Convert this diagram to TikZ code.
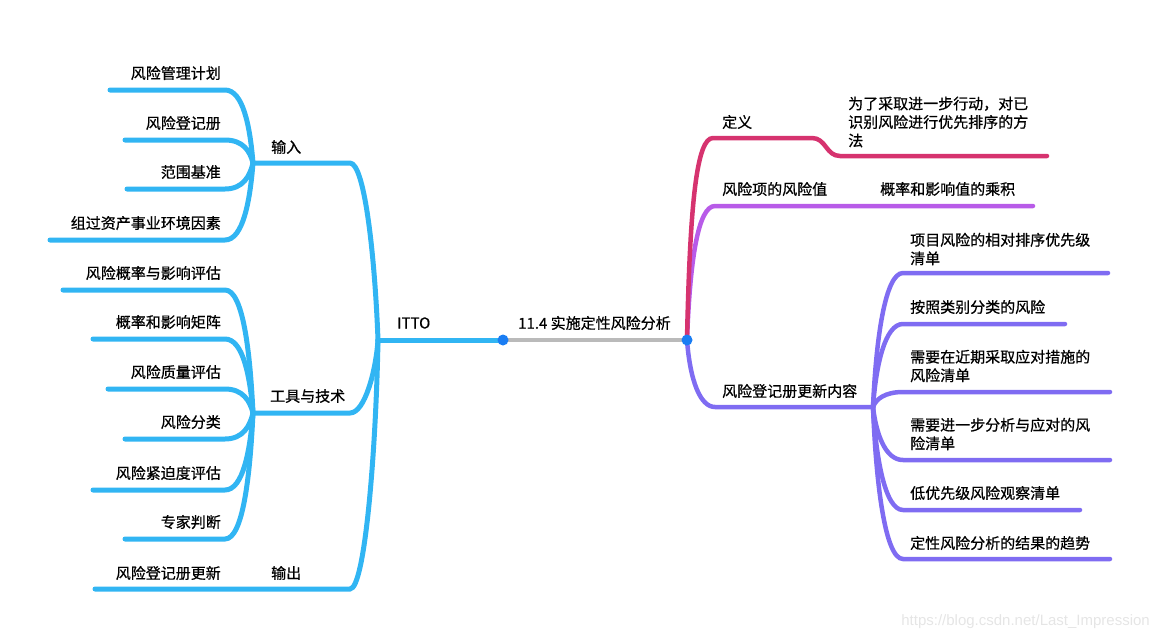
\documentclass[tikz,border=0pt]{standalone}
\usepackage{fontspec}
\usepackage{xcolor}
\usepackage{tikz}
\newfontfamily\cjk[FakeBold=0.7]{Noto Sans CJK SC}
\newfontfamily\markfont{Liberation Sans}
\definecolor{ittoblue}{HTML}{31B5F3}
\definecolor{coreblue}{HTML}{1A7DF3}
\definecolor{defred}{HTML}{D6336F}
\definecolor{valpurple}{HTML}{B85BE8}
\definecolor{regviolet}{HTML}{7F6CF2}

\begin{document}
\begin{tikzpicture}[x=1pt, y=-1pt,
    every node/.style={font=\cjk\fontsize{15}{18.5}\selectfont, inner sep=0pt, align=left},
    itto/.style={draw=ittoblue, line width=5pt, line cap=round},
    defline/.style={draw=defred, line width=4.5pt, line cap=round},
    valline/.style={draw=valpurple, line width=4.5pt, line cap=round},
    regline/.style={draw=regviolet, line width=4.5pt, line cap=round},
    dot/.style={circle, fill=coreblue, minimum size=11pt}]
      \useasboundingbox (0,0) rectangle (1159,640);
      %\draw [dotted] (0,0) grid[step=50] (1159,640);
      \coordinate (root) at (503,340);
      \coordinate (core) at (687,340);
      \coordinate (jitto) at (378,340);
      \coordinate (jin)   at (253,163);
      \coordinate (jtool) at (253,413);
      \coordinate (ein)   at (350,163);
      \coordinate (etool) at (350,413);
      \coordinate (eout)  at (350,589);
      % inputs
      \coordinate (in1) at (110, 90);  \coordinate (kin1) at (225, 90);
      \coordinate (in2) at (125,140);  \coordinate (kin2) at (225,140);
      \coordinate (in3) at (127,189);  \coordinate (kin3) at (225,189);
      \coordinate (in4) at ( 50,240);  \coordinate (kin4) at (225,240);
      % tools and techniques
      \coordinate (tt1) at ( 63,290);  \coordinate (ktt1) at (225,290);
      \coordinate (tt2) at ( 93,339);  \coordinate (ktt2) at (225,339);
      \coordinate (tt3) at (108,389);  \coordinate (ktt3) at (225,389);
      \coordinate (tt4) at (125,439);  \coordinate (ktt4) at (225,439);
      \coordinate (tt5) at ( 93,490);  \coordinate (ktt5) at (225,490);
      \coordinate (tt6) at (125,539);  \coordinate (ktt6) at (225,539);
      \coordinate (out1) at ( 95,589);
      % right side
      \coordinate (kdef)  at (713,138);
      \coordinate (sdef)  at (812,138);
      \coordinate (tdef)  at (840,156);
      \coordinate (fdef)  at (1047,156);
      \coordinate (kval)  at (715,206);
      \coordinate (mval)  at (860,206);
      \coordinate (fval)  at (1033,206);
      \coordinate (kreg)  at (715,407);
      \coordinate (jreg)  at (873,407);
      \coordinate (rg1) at (903,273);  \coordinate (frg1) at (1108,273);
      \coordinate (rg2) at (903,324);  \coordinate (frg2) at (1065,324);
      \coordinate (rg3) at (903,392);  \coordinate (frg3) at (1110,392);
      \coordinate (rg4) at (903,460);  \coordinate (frg4) at (1110,460);
      \coordinate (rg5) at (903,510);  \coordinate (frg5) at (1080,510);
      \coordinate (rg6) at (903,559);  \coordinate (frg6) at (1110,559);

      \draw [draw=black!27, line width=4pt] (root) -- (core);
      \draw [itto] (root) -- (jitto);
      \draw [itto] (jin) -- (ein) .. controls (365,163) and (375,260) .. (jitto);
      \draw [itto] (jtool) -- (etool) .. controls (365,413) and (376,370) .. (jitto);
      \draw [itto] (out1) -- (eout) .. controls (365,589) and (376,450) .. (jitto);
      \draw [itto] (in1) -- (kin1) .. controls (243, 90) and (250,126) .. (jin);
      \draw [itto] (in2) -- (kin2) .. controls (243,140) and (250,151) .. (jin);
      \draw [itto] (in3) -- (kin3) .. controls (243,189) and (250,176) .. (jin);
      \draw [itto] (in4) -- (kin4) .. controls (243,240) and (250,201) .. (jin);
      \draw [itto] (tt1) -- (ktt1) .. controls (243,290) and (250,351) .. (jtool);
      \draw [itto] (tt2) -- (ktt2) .. controls (243,339) and (250,376) .. (jtool);
      \draw [itto] (tt3) -- (ktt3) .. controls (243,389) and (250,401) .. (jtool);
      \draw [itto] (tt4) -- (ktt4) .. controls (243,439) and (250,426) .. (jtool);
      \draw [itto] (tt5) -- (ktt5) .. controls (243,490) and (250,451) .. (jtool);
      \draw [itto] (tt6) -- (ktt6) .. controls (243,539) and (250,476) .. (jtool);
      \draw [regline] (core) .. controls (690,380) and (700,407) .. (kreg) -- (jreg);
      \draw [regline] (jreg) .. controls (876,340) and (885,273) .. (rg1) -- (frg1);
      \draw [regline] (jreg) .. controls (876,365) and (885,324) .. (rg2) -- (frg2);
      \draw [regline] (jreg) .. controls (876,399) and (885,392) .. (rg3) -- (frg3);
      \draw [regline] (jreg) .. controls (876,433) and (885,460) .. (rg4) -- (frg4);
      \draw [regline] (jreg) .. controls (876,458) and (885,510) .. (rg5) -- (frg5);
      \draw [regline] (jreg) .. controls (876,483) and (885,559) .. (rg6) -- (frg6);
      \draw [valline] (core) .. controls (690,260) and (698,206) .. (kval) -- (mval) -- (fval);
      \draw [defline] (core) .. controls (690,200) and (697,138) .. (kdef) -- (sdef)
            .. controls (826,138) and (826,156) .. (tdef) -- (fdef);
      \node [dot] (rootdot) at (root) {};
      \node [dot] (coredot) at (core) {};

      \node [anchor=west] (topic) at (518,323) {11.4 实施定性风险分析};
      \node [anchor=west] (ittolbl) at (397,323) {ITTO};
      \node [anchor=west] (inlbl)   at (271,147) {输入};
      \node [anchor=west] (toollbl) at (270,396) {工具与技术};
      \node [anchor=west] (outlbl)  at (271,573) {输出};
      \node [anchor=east] (plan)   at (221, 73) {风险管理计划};
      \node [anchor=east] (reg)    at (221,123) {风险登记册};
      \node [anchor=east] (scope)  at (221,172) {范围基准};
      \node [anchor=east] (assets) at (221,223) {组过资产事业环境因素};
      \node [anchor=east] (probimp) at (221,273) {风险概率与影响评估};
      \node [anchor=east] (matrix)  at (221,322) {概率和影响矩阵};
      \node [anchor=east] (quality) at (221,372) {风险质量评估};
      \node [anchor=east] (categ)   at (221,422) {风险分类};
      \node [anchor=east] (urgency) at (221,473) {风险紧迫度评估};
      \node [anchor=east] (expert)  at (221,522) {专家判断};
      \node [anchor=east] (update)  at (221,573) {风险登记册更新};
      \node [anchor=west] (deflbl) at (722,122) {定义};
      \node [anchor=west] (deftxt) at (848,122) {为了采取进一步行动，对已\\识别风险进行优先排序的方\\法};
      \node [anchor=west] (vallbl) at (722,189) {风险项的风险值};
      \node [anchor=west] (valtxt) at (880,189) {概率和影响值的乘积};
      \node [anchor=west] (reglbl) at (722,391) {风险登记册更新内容};
      \node [anchor=west] (rank)   at (910,249) {项目风险的相对排序优先级\\清单};
      \node [anchor=west] (bycat)  at (910,307) {按照类别分类的风险};
      \node [anchor=west] (near)   at (910,366) {需要在近期采取应对措施的\\风险清单};
      \node [anchor=west] (further) at (910,434) {需要进一步分析与应对的风\\险清单};
      \node [anchor=west] (watch)  at (910,493) {低优先级风险观察清单};
      \node [anchor=west] (trend)  at (910,543) {定性风险分析的结果的趋势};
      \node [anchor=east, font=\markfont\fontsize{15}{18}\selectfont, text=black!10] (mark) at (1150,622) {https://blog.csdn.net/Last\_Impression};
\end{tikzpicture}
\end{document}
